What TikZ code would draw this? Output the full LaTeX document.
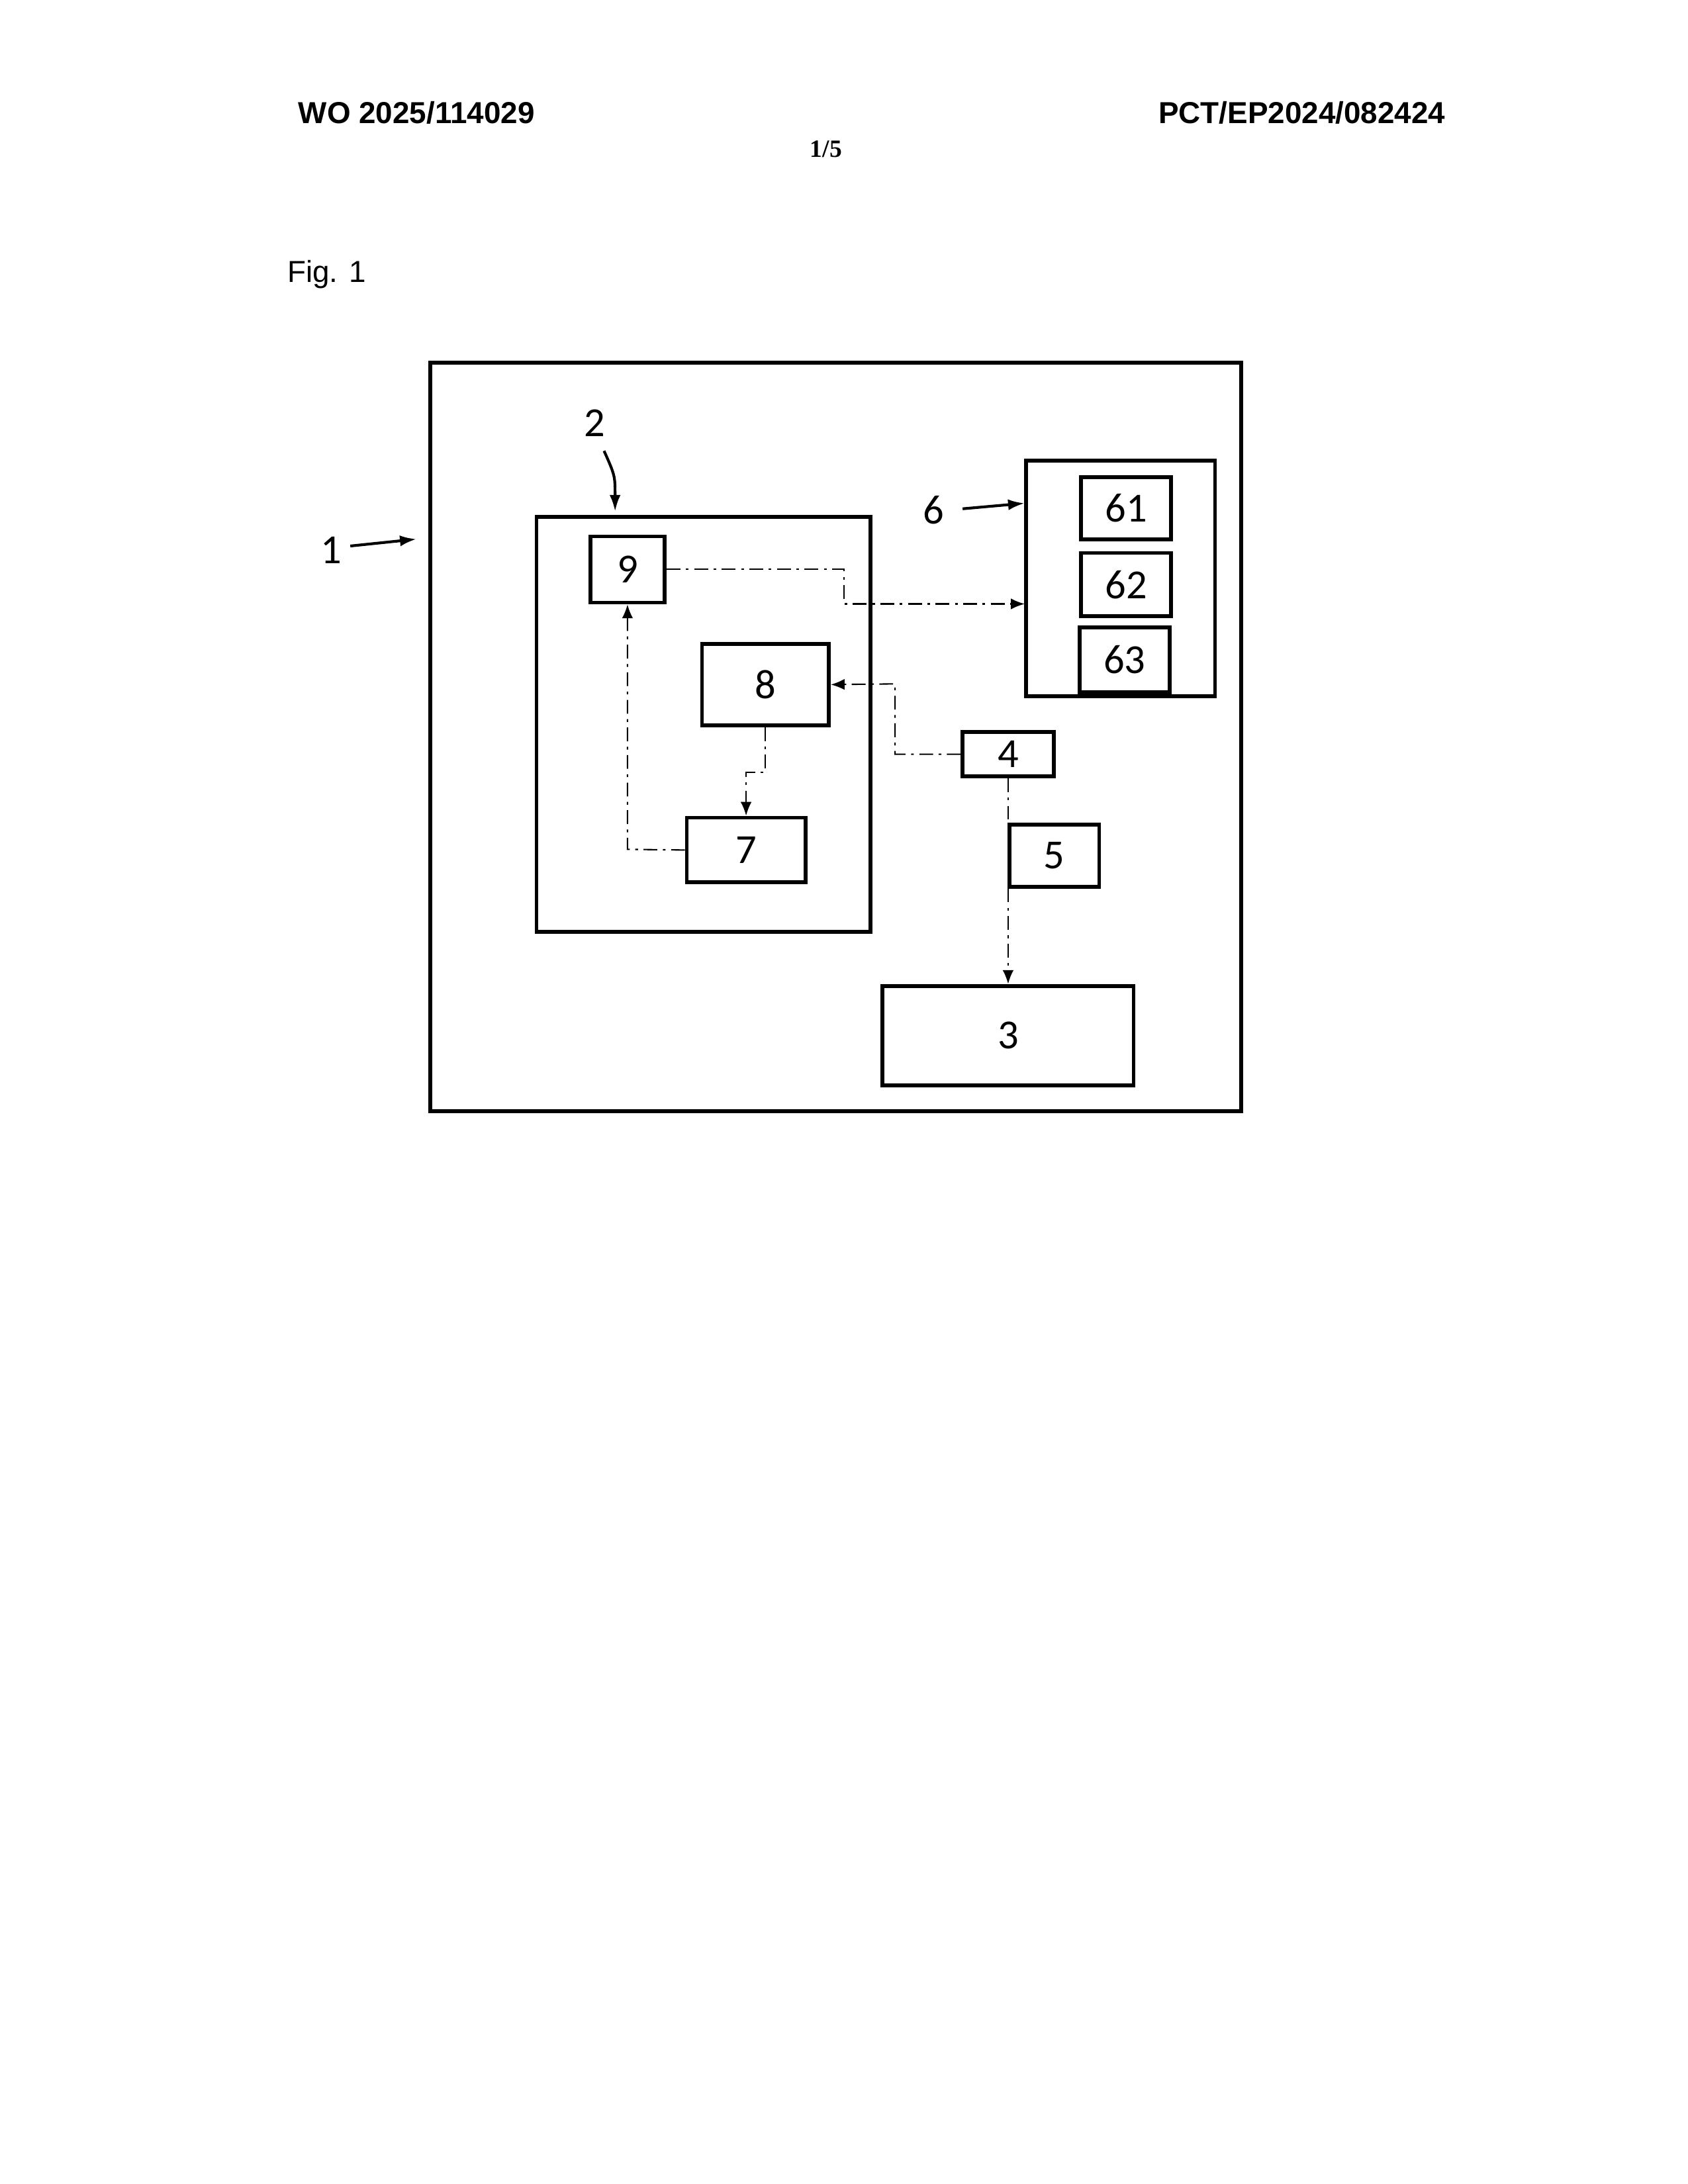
\documentclass[tikz,border=0pt]{standalone}
\usepackage{fontspec}
\setmainfont{Carlito}
\newfontfamily\arialf{Liberation Sans}
\newfontfamily\timesf{Liberation Serif}
\usetikzlibrary{arrows.meta}
\begin{document}
\begin{tikzpicture}[x=0.5pt,y=-0.5pt,
  blk/.style={draw,line width=1.4pt,inner sep=0pt},
  num/.style={font=\fontsize{15}{15}\selectfont},
  sig/.style={line width=0.5pt,dash pattern=on 5pt off 2pt on 1pt off 2pt,-{Latex[length=5pt,width=4pt]}},
  lbl/.style={-{Latex[length=6pt,width=4pt]},line width=1pt}]
\useasboundingbox (0,0) rectangle (1224,1584);
\node[font=\arialf\bfseries\fontsize{11}{11}\selectfont] (h1) at (302,82) {WO 2025/114029};
\node[font=\arialf\bfseries\fontsize{11}{11}\selectfont] (h2) at (944,82) {PCT/EP2024/082424};
\node[font=\timesf\bfseries\fontsize{9}{9}\selectfont] (h3) at (599,108) {1/5};
\node[font=\arialf\fontsize{11}{11}\selectfont] (fig) at (237,199) {Fig. 1};
\draw[line width=1.4pt] (312,263) rectangle (900,806);
\draw[line width=1.4pt] (389,375) rectangle (631,676);
\draw[line width=1.4pt] (744,334) rectangle (881,505);
\coordinate (b2) at (446,371);
\coordinate (b6) at (743,365);
\coordinate (b1) at (302,391);
\node[blk,num,minimum width=27pt,minimum height=24pt] (n9) at (455,413) {9};
\node[blk,num,minimum width=46pt,minimum height=29.5pt] (n8) at (555,496.5) {8};
\node[blk,num,minimum width=43pt,minimum height=23.5pt] (n7) at (541,616.5) {7};
\node[blk,num,minimum width=32.5pt,minimum height=22.5pt] (n61) at (816.5,368.5) {61};
\node[blk,num,minimum width=32.5pt,minimum height=23pt] (n62) at (816.5,424) {62};
\node[blk,num,minimum width=32.5pt,minimum height=23.5pt] (n63) at (815.5,478.5) {63};
\node[blk,num,minimum width=33pt,minimum height=16pt] (n4) at (731,547) {4};
\node[blk,num,minimum width=32.5pt,minimum height=22.5pt] (n5) at (764.5,620.5) {5};
\node[blk,num,minimum width=91pt,minimum height=36pt] (n3) at (731,751) {3};
\node[num] (l2) at (431,307) {2};
\node[num] (l6) at (677,370) {6};
\node[num] (l1) at (240,399) {1};
\draw[lbl] (438,327) .. controls (446,345) .. (b2);
\draw[lbl] (698,369) -- (b6);
\draw[lbl] (254,396) -- (b1);
\draw[sig] (n9.east) -- (612,413) -- (612,438) -- (743,438);
\draw[sig] (n4.west) -- (649,547) -- (649,496) -- (n8.east);
\draw[sig] (n8.south) -- (555,560) -- (541,560) -- (n7.north);
\draw[sig] (n7.west) -- (455,616) -- (n9.south);
\draw[sig] (n4.south) -- (n3.north);
\end{tikzpicture}
\end{document}
